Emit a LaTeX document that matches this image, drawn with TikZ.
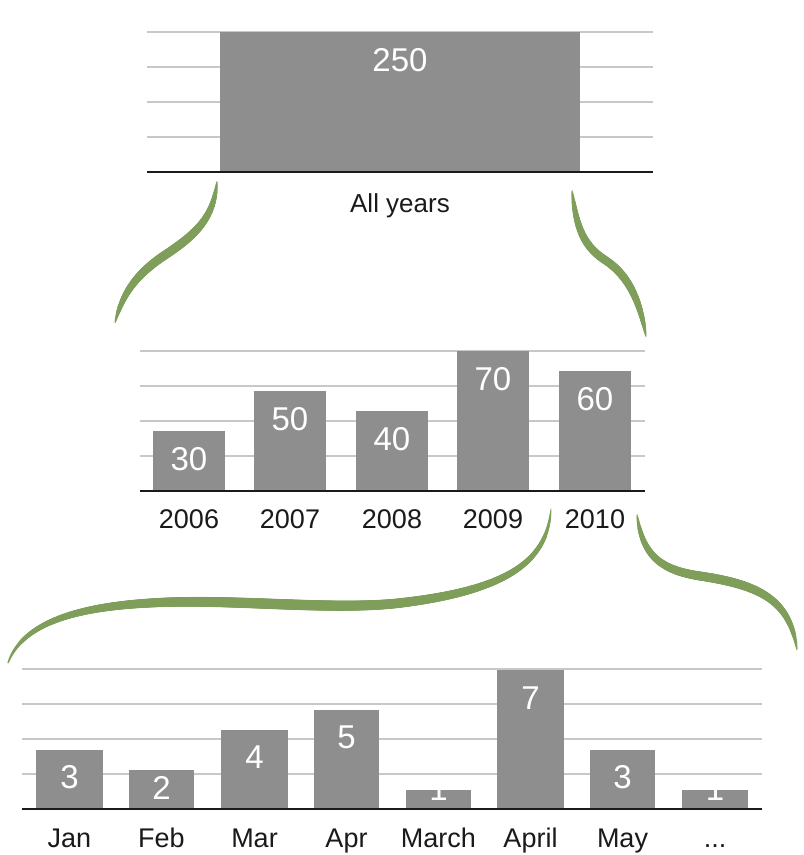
\documentclass[tikz,border=0pt]{standalone}
\usepackage{fontspec}
\setmainfont{Liberation Sans}
\usetikzlibrary{decorations.markings}
\definecolor{bargray}{HTML}{8E8E8E}
\definecolor{gridgray}{HTML}{C8C8C8}
\definecolor{brushgreen}{HTML}{7E9E5A}
\definecolor{axisblack}{HTML}{1A1A1A}
\tikzset{
 grid line/.style={draw=gridgray, line width=1.1pt},
 axis line/.style={draw=axisblack, line width=1.4pt},
 bar/.style={fill=bargray},
 value/.style={text=white, font=\fontsize{33}{36}\selectfont, anchor=base, inner sep=0pt},
 cat/.style={text=axisblack, font=\fontsize{27}{30}\selectfont, anchor=base, inner sep=0pt},
 brush/.style={postaction={decorate}, decoration={markings,
   mark=between positions 0 and 1 step 0.7pt with {
   \pgfmathsetmacro\brushT{(\pgfkeysvalueof{/pgf/decoration/mark info/distance from start})/(\pgfdecoratedpathlength)}
   \pgfmathsetmacro\brushR{#1*sqrt(abs(sin(180*\brushT)))}
   \fill[brushgreen] (0,0) circle[radius=\brushR pt];
 }}},
}
\begin{document}
\begin{tikzpicture}[x=1pt, y=-1pt]
\useasboundingbox (0,0) rectangle (804,855);
\fill[white] (0,0) rectangle (804,855);

% ---------- top chart ----------
\foreach \y in {32,67,102,137} \draw[grid line] (147,\y) -- (653,\y);
\fill[bar] (220,32) rectangle (580,172);
\draw[axis line] (147,172) -- (653,172);
\node[value] (v250) at (400,71) {250};
\node[cat, font=\fontsize{26}{30}\selectfont] (allyears) at (400,212) {All years};

% ---------- middle chart ----------
\foreach \y in {351,386,421,456} \draw[grid line] (140,\y) -- (645,\y);
\fill[bar] (153,431) rectangle (225,491);
\fill[bar] (254,391) rectangle (326,491);
\fill[bar] (356,411) rectangle (428,491);
\fill[bar] (457,351) rectangle (529,491);
\fill[bar] (559,371) rectangle (631,491);
\draw[axis line] (140,491) -- (645,491);
\node[value] (v2006) at (189,470) {30};
\node[value] (v2007) at (290,430) {50};
\node[value] (v2008) at (392,450) {40};
\node[value] (v2009) at (493,390) {70};
\node[value] (v2010) at (595,410) {60};
\node[cat] (y2006) at (189,528) {2006};
\node[cat] (y2007) at (290,528) {2007};
\node[cat] (y2008) at (392,528) {2008};
\node[cat] (y2009) at (493,528) {2009};
\node[cat] (y2010) at (595,528) {2010};

% ---------- bottom chart ----------
\foreach \y in {669,704,739,774} \draw[grid line] (22,\y) -- (762,\y);
\fill[bar] (36,750) rectangle (103,809);
\fill[bar] (129,770) rectangle (194,809);
\fill[bar] (221,730) rectangle (288,809);
\fill[bar] (314,710) rectangle (379,809);
\fill[bar] (406,790) rectangle (471,809);
\fill[bar] (497,670) rectangle (564,809);
\fill[bar] (590,750) rectangle (655,809);
\fill[bar] (682,790) rectangle (748,809);
\draw[axis line] (22,809) -- (762,809);
\node[value] (vjan) at (69.5,788) {3};
\node[value] (vfeb) at (161.5,799) {2};
\node[value] (vmar) at (254.5,768) {4};
\node[value] (vapr) at (346.5,748) {5};
\node[value] (vmarch) at (438.5,800) {1};
\node[value] (vapril) at (530.5,709) {7};
\node[value] (vmay) at (622.5,788) {3};
\node[value] (vmore) at (715,800) {1};
\node[cat] (mjan) at (69.5,847) {Jan};
\node[cat] (mfeb) at (161.5,847) {Feb};
\node[cat] (mmar) at (254.5,847) {Mar};
\node[cat] (mapr) at (346.5,847) {Apr};
\node[cat] (mmarch) at (438.5,847) {March};
\node[cat] (mapril) at (530.5,847) {April};
\node[cat] (mmay) at (622.5,847) {May};
\node[cat] (mmore) at (715,847) {...};

% ---------- brush strokes ----------
\coordinate (aTop) at (217,181);
\coordinate (aBot) at (115,323);
\coordinate (bTop) at (572,190);
\coordinate (bBot) at (646,337);
\coordinate (cTop) at (551,508);
\coordinate (cBot) at (8,663);
\coordinate (dTop) at (637,514);
\coordinate (dBot) at (797,650);
\path[brush=4.5] (aTop) .. controls (214,215) and (200,232) .. (165,255)
                         .. controls (135,275) and (122,295) .. (aBot);
\path[brush=4.2] (bTop) .. controls (576,225) and (582,245) .. (605,260)
                         .. controls (628,275) and (640,300) .. (bBot);
\path[brush=5.2] (cTop) .. controls (548,560) and (510,590) .. (400,603)
                         .. controls (330,611) and (230,598) .. (150,603)
                         .. controls (60,608) and (20,630) .. (cBot);
\path[brush=4.6] (dTop) .. controls (642,555) and (660,570) .. (700,576)
                         .. controls (760,585) and (790,600) .. (dBot);
\end{tikzpicture}
\end{document}
